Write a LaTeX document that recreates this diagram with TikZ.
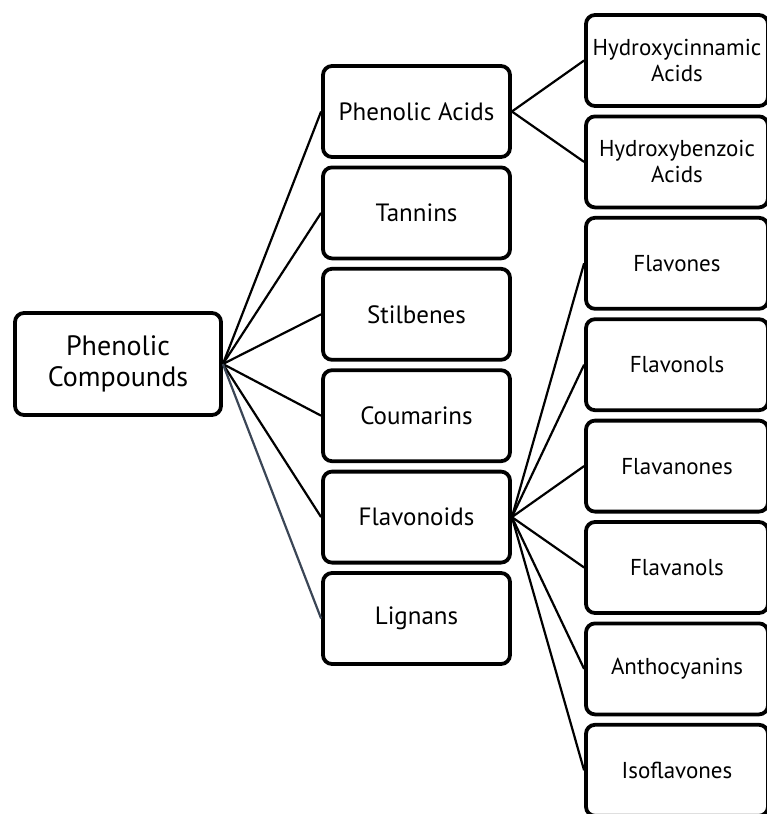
\documentclass[tikz,border=0pt]{standalone}
\usepackage{fontspec}
\setmainfont{PT Sans}
\usepackage{tikz}
\usetikzlibrary{calc}
\usepackage{xcolor}
\definecolor{slateline}{HTML}{3B4656}
\newcommand{\boxgap}{101.4}
\tikzset{
  catbox/.style={draw=black,line width=3.8pt,rounded corners=9pt,fill=white,
    align=center,inner sep=0pt},
  rootbox/.style={catbox,minimum width=206pt,minimum height=102pt,
    font=\fontsize{28}{31}\selectfont},
  midbox/.style={catbox,minimum width=187pt,minimum height=91pt,
    font=\fontsize{25}{29}\selectfont},
  leafbox/.style={catbox,minimum width=182pt,minimum height=91pt,
    font=\fontsize{23}{26}\selectfont},
  link/.style={line width=2.2pt,black}
}

\begin{document}
\begin{tikzpicture}[x=1pt,y=-1pt]

    \useasboundingbox (0,0) rectangle (767,814);
    \clip (0,0) rectangle (767,814);

    \coordinate (M) at (416.5,111.5);
    \coordinate (L) at (677,60.5);

    \node[rootbox] (root) at (118,364) {Phenolic\\Compounds};

    \node[midbox] (acids) at (M) {Phenolic Acids};
    \node[midbox] (tann) at ($(M)+(0,1*\boxgap)$) {Tannins};
    \node[midbox] (stil) at ($(M)+(0,2*\boxgap)$) {Stilbenes};
    \node[midbox] (coum) at ($(M)+(0,3*\boxgap)$) {Coumarins};
    \node[midbox] (flav) at ($(M)+(0,4*\boxgap)$) {Flavonoids};
    \node[midbox] (lign) at ($(M)+(0,5*\boxgap)$) {Lignans};

    \node[leafbox] (hcin) at (L) {Hydroxycinnamic\\Acids};
    \node[leafbox] (hben) at ($(L)+(0,1*\boxgap)$) {Hydroxybenzoic\\Acids};
    \node[leafbox] (fone) at ($(L)+(0,2*\boxgap)$) {Flavones};
    \node[leafbox] (fnol) at ($(L)+(0,3*\boxgap)$) {Flavonols};
    \node[leafbox] (fnon) at ($(L)+(0,4*\boxgap)$) {Flavanones};
    \node[leafbox] (fanl) at ($(L)+(0,5*\boxgap)$) {Flavanols};
    \node[leafbox] (anth) at ($(L)+(0,6*\boxgap)$) {Anthocyanins};
    \node[leafbox] (isof) at ($(L)+(0,7*\boxgap)$) {Isoflavones};

    % root to classes
    \draw[link] (root.east) -- (acids.west);
    \draw[link] (root.east) -- (tann.west);
    \draw[link] (root.east) -- (stil.west);
    \draw[link] (root.east) -- (coum.west);
    \draw[link] (root.east) -- (flav.west);
    \draw[link,slateline] (root.east) -- (lign.west);

    % phenolic acids
    \draw[link] (acids.east) -- (hcin.west);
    \draw[link] (acids.east) -- (hben.west);

    % flavonoids
    \draw[link] (flav.east) -- (fone.west);
    \draw[link] (flav.east) -- (fnol.west);
    \draw[link] (flav.east) -- (fnon.west);
    \draw[link] (flav.east) -- (fanl.west);
    \draw[link] (flav.east) -- (anth.west);
    \draw[link] (flav.east) -- (isof.west);
    \end{tikzpicture}
\end{document}
